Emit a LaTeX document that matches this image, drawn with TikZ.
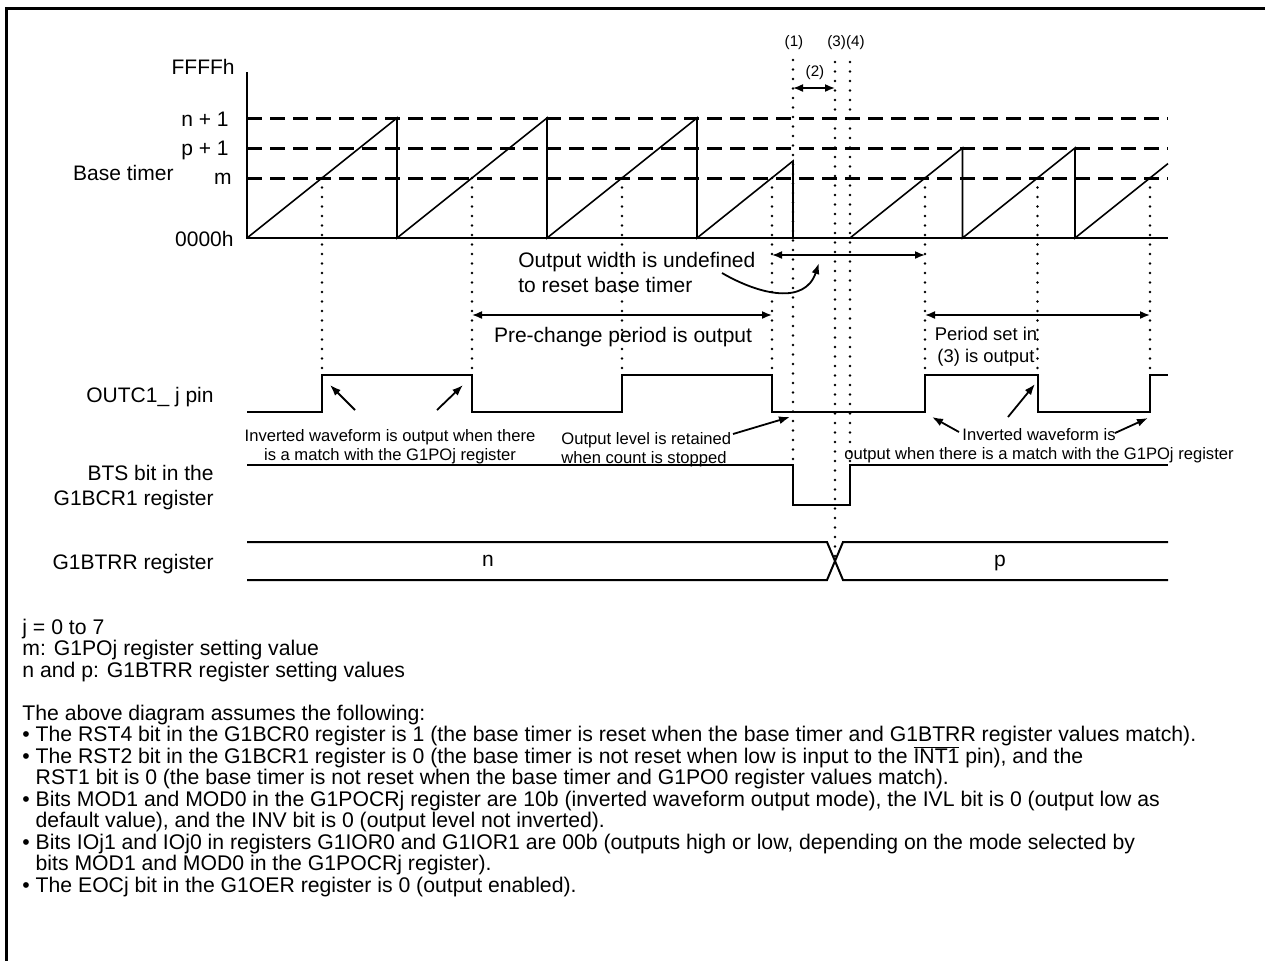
\documentclass[tikz,border=0pt]{standalone}
\usepackage{fontspec}
\setmainfont{Liberation Sans}
\usetikzlibrary{arrows.meta}

\newcommand\bpad{\phantom{\textbullet\ }}
\newcommand\barred[1]{\mbox{\setbox0\hbox{#1}\rlap{\rule[\dimexpr\ht0+0.5pt\relax]{\wd0}{0.5pt}}\box0}}

\begin{document}
\begin{tikzpicture}[x=0.5pt, y=-0.5pt,
  axisline/.style={line width=0.8pt},
  ramp/.style={line width=0.8pt},
  wave/.style={line width=1pt},
  level/.style={line width=1.5pt, dash pattern=on 7.5pt off 4pt},
  guide/.style={line width=1.3pt, line cap=round, dash pattern=on 0pt off 4.75pt},
  dim/.style={{Latex[length=5pt,width=4pt]}-{Latex[length=5pt,width=4pt]}, line width=0.8pt},
  ptr/.style={-{Latex[length=5.5pt,width=4pt]}, line width=0.9pt},
  txtbig/.style={font=\fontsize{10.5}{12.5}\selectfont, inner sep=0pt},
  txtmid/.style={font=\fontsize{9.2}{11}\selectfont, inner sep=0pt},
  txtsmall/.style={font=\fontsize{8.3}{9.5}\selectfont, inner sep=0pt},
  txttag/.style={font=\fontsize{7.6}{9}\selectfont, inner sep=0pt},
  txtnote/.style={font=\fontsize{10.6}{10.75}\selectfont, inner sep=0pt}]
\useasboundingbox (0,0) rectangle (1265,960);
\draw[line width=1.5pt] (6,8) rectangle (1300,1000);

% axis and levels
\draw[axisline] (247,72) -- (247,238) -- (1168,238);
\foreach \yy in {118,148,178} \draw[level] (247,\yy) -- (1168,\yy);
\node[txtbig, anchor=base east] (ffff) at (235,74.5) {FFFFh};
\node[txtbig, anchor=base east] (nlev) at (229,126.5) {n + 1};
\node[txtbig, anchor=base east] (plev) at (229,155.5) {p + 1};
\node[txtbig, anchor=base east] (mlev) at (232,184.5) {m};
\node[txtbig, anchor=base east] (zero) at (234,246.5) {0000h};
\node[txtbig, anchor=base east] (base) at (174,180.5) {Base timer};

% base timer count
\draw[ramp] (247,238) -- (397,118) -- (397,238) -- (547,118) -- (547,238)
  -- (697,118) -- (697,238) -- (793,161) -- (793,238);
\draw[ramp] (850,238) -- (962.5,148) -- (962.5,238) -- (1075,148) -- (1075,238)
  -- (1168,163.6);

% guides
\foreach \xx in {322,472,622,772,925,1037.5,1150} \draw[guide] (\xx,178) -- (\xx,375);
\draw[guide] (793,60) -- (793,465);
\draw[guide] (835,62) -- (835,560);
\draw[guide] (850,62) -- (850,465);
\node[txttag] (t1) at (794,43) {(1)};
\node[txttag] (t2) at (815,73) {(2)};
\node[txttag] (t34) at (846,43) {(3)(4)};

% waveforms
\draw[wave] (247,412) -- (322,412) -- (322,375) -- (472,375) -- (472,412)
  -- (622,412) -- (622,375) -- (772,375) -- (772,412) -- (925,412) -- (925,375)
  -- (1037.5,375) -- (1037.5,412) -- (1150,412) -- (1150,375) -- (1168,375);
\draw[wave] (247,465) -- (793,465) -- (793,505) -- (850,505) -- (850,465) -- (1168,465);
\draw[wave] (247,542) -- (827,542) -- (843,580) -- (1168,580);
\draw[wave] (247,580) -- (827,580) -- (843,542) -- (1168,542);
\node[txtbig, anchor=base] (nval) at (488,566.5) {n};
\node[txtbig, anchor=base] (pval) at (1000,566.5) {p};

\node[txtbig, anchor=base east] (outc) at (214,402.5) {OUTC1\_ j pin};
\node[txtbig, anchor=north east, align=right] (bts) at (214,464.5) {BTS bit in the\\G1BCR1 register};
\node[txtbig, anchor=base east] (btrr) at (214,569.5) {G1BTRR register};

% spans
\coordinate (s1) at (793,88);   \coordinate (s3) at (835,88);
\coordinate (u1) at (772,255);  \coordinate (u2) at (925,255);
\coordinate (c1) at (472,315);  \coordinate (c2) at (772,315);
\coordinate (d1) at (925,315);  \coordinate (d2) at (1150,315);
\draw[dim] (s1) -- (s3);
\draw[dim] (u1) -- (u2);
\draw[dim] (c1) -- (c2);
\draw[dim] (d1) -- (d2);

\node[txtbig, anchor=north west, align=left] (undef) at (518,252)
  {Output width is undefined\\to reset base timer};
\node[txtbig, anchor=north] (prechg) at (623,327) {Pre-change period is output};
\node[txtmid, anchor=north, align=center] (period) at (986,327) {Period set in\\(3) is output};

% pointers
\coordinate (a0) at (722,273);  \coordinate (a1) at (819,263);
\draw[ptr] (a0) .. controls (760,295) and (805,305) .. (a1);

\node[txtsmall, anchor=north, align=center] (inv1) at (390,429)
  {Inverted waveform is output when there\\is a match with the G1POj register};
\node[txtsmall, anchor=north west, align=left] (keep) at (561,432)
  {Output level is retained\\when count is stopped};
\node[txtsmall, anchor=north, align=center] (inv2) at (1039,428)
  {Inverted waveform is\\output when there is a match with the G1POj register};

\coordinate (p1) at (355,410);   \coordinate (e1) at (330,385);
\coordinate (p2) at (437,410);   \coordinate (e2) at (463,385);
\coordinate (p3) at (733,434);   \coordinate (e3) at (790,417);
\coordinate (p4) at (959,432);   \coordinate (e4) at (932,417);
\coordinate (p5) at (1008,417);  \coordinate (e5) at (1035,384);
\coordinate (p6) at (1115,433);  \coordinate (e6) at (1148,418);
\draw[ptr] (p1) -- (e1);
\draw[ptr] (p2) -- (e2);
\draw[ptr] (p3) -- (e3);
\draw[ptr] (p4) -- (e4);
\draw[ptr] (p5) -- (e5);
\draw[ptr] (p6) -- (e6);

% notes
\node[txtnote, anchor=north west, align=left] (notes) at (22,618.5)
  {j = 0 to 7\\
   m: G1POj register setting value\\
   n and p: G1BTRR register setting values\\[10.75pt]
   The above diagram assumes the following:\\
   \textbullet\ The RST4 bit in the G1BCR0 register is 1 (the base timer is reset when the base timer and G1BTRR register values match).\\
   \textbullet\ The RST2 bit in the G1BCR1 register is 0 (the base timer is not reset when low is input to the \smash{\barred{INT1}} pin), and the\\
   \bpad RST1 bit is 0 (the base timer is not reset when the base timer and G1PO0 register values match).\\
   \textbullet\ Bits MOD1 and MOD0 in the G1POCRj register are 10b (inverted waveform output mode), the IVL bit is 0 (output low as\\
   \bpad default value), and the INV bit is 0 (output level not inverted).\\
   \textbullet\ Bits IOj1 and IOj0 in registers G1IOR0 and G1IOR1 are 00b (outputs high or low, depending on the mode selected by\\
   \bpad bits MOD1 and MOD0 in the G1POCRj register).\\
   \textbullet\ The EOCj bit in the G1OER register is 0 (output enabled).};
\end{tikzpicture}
\end{document}
